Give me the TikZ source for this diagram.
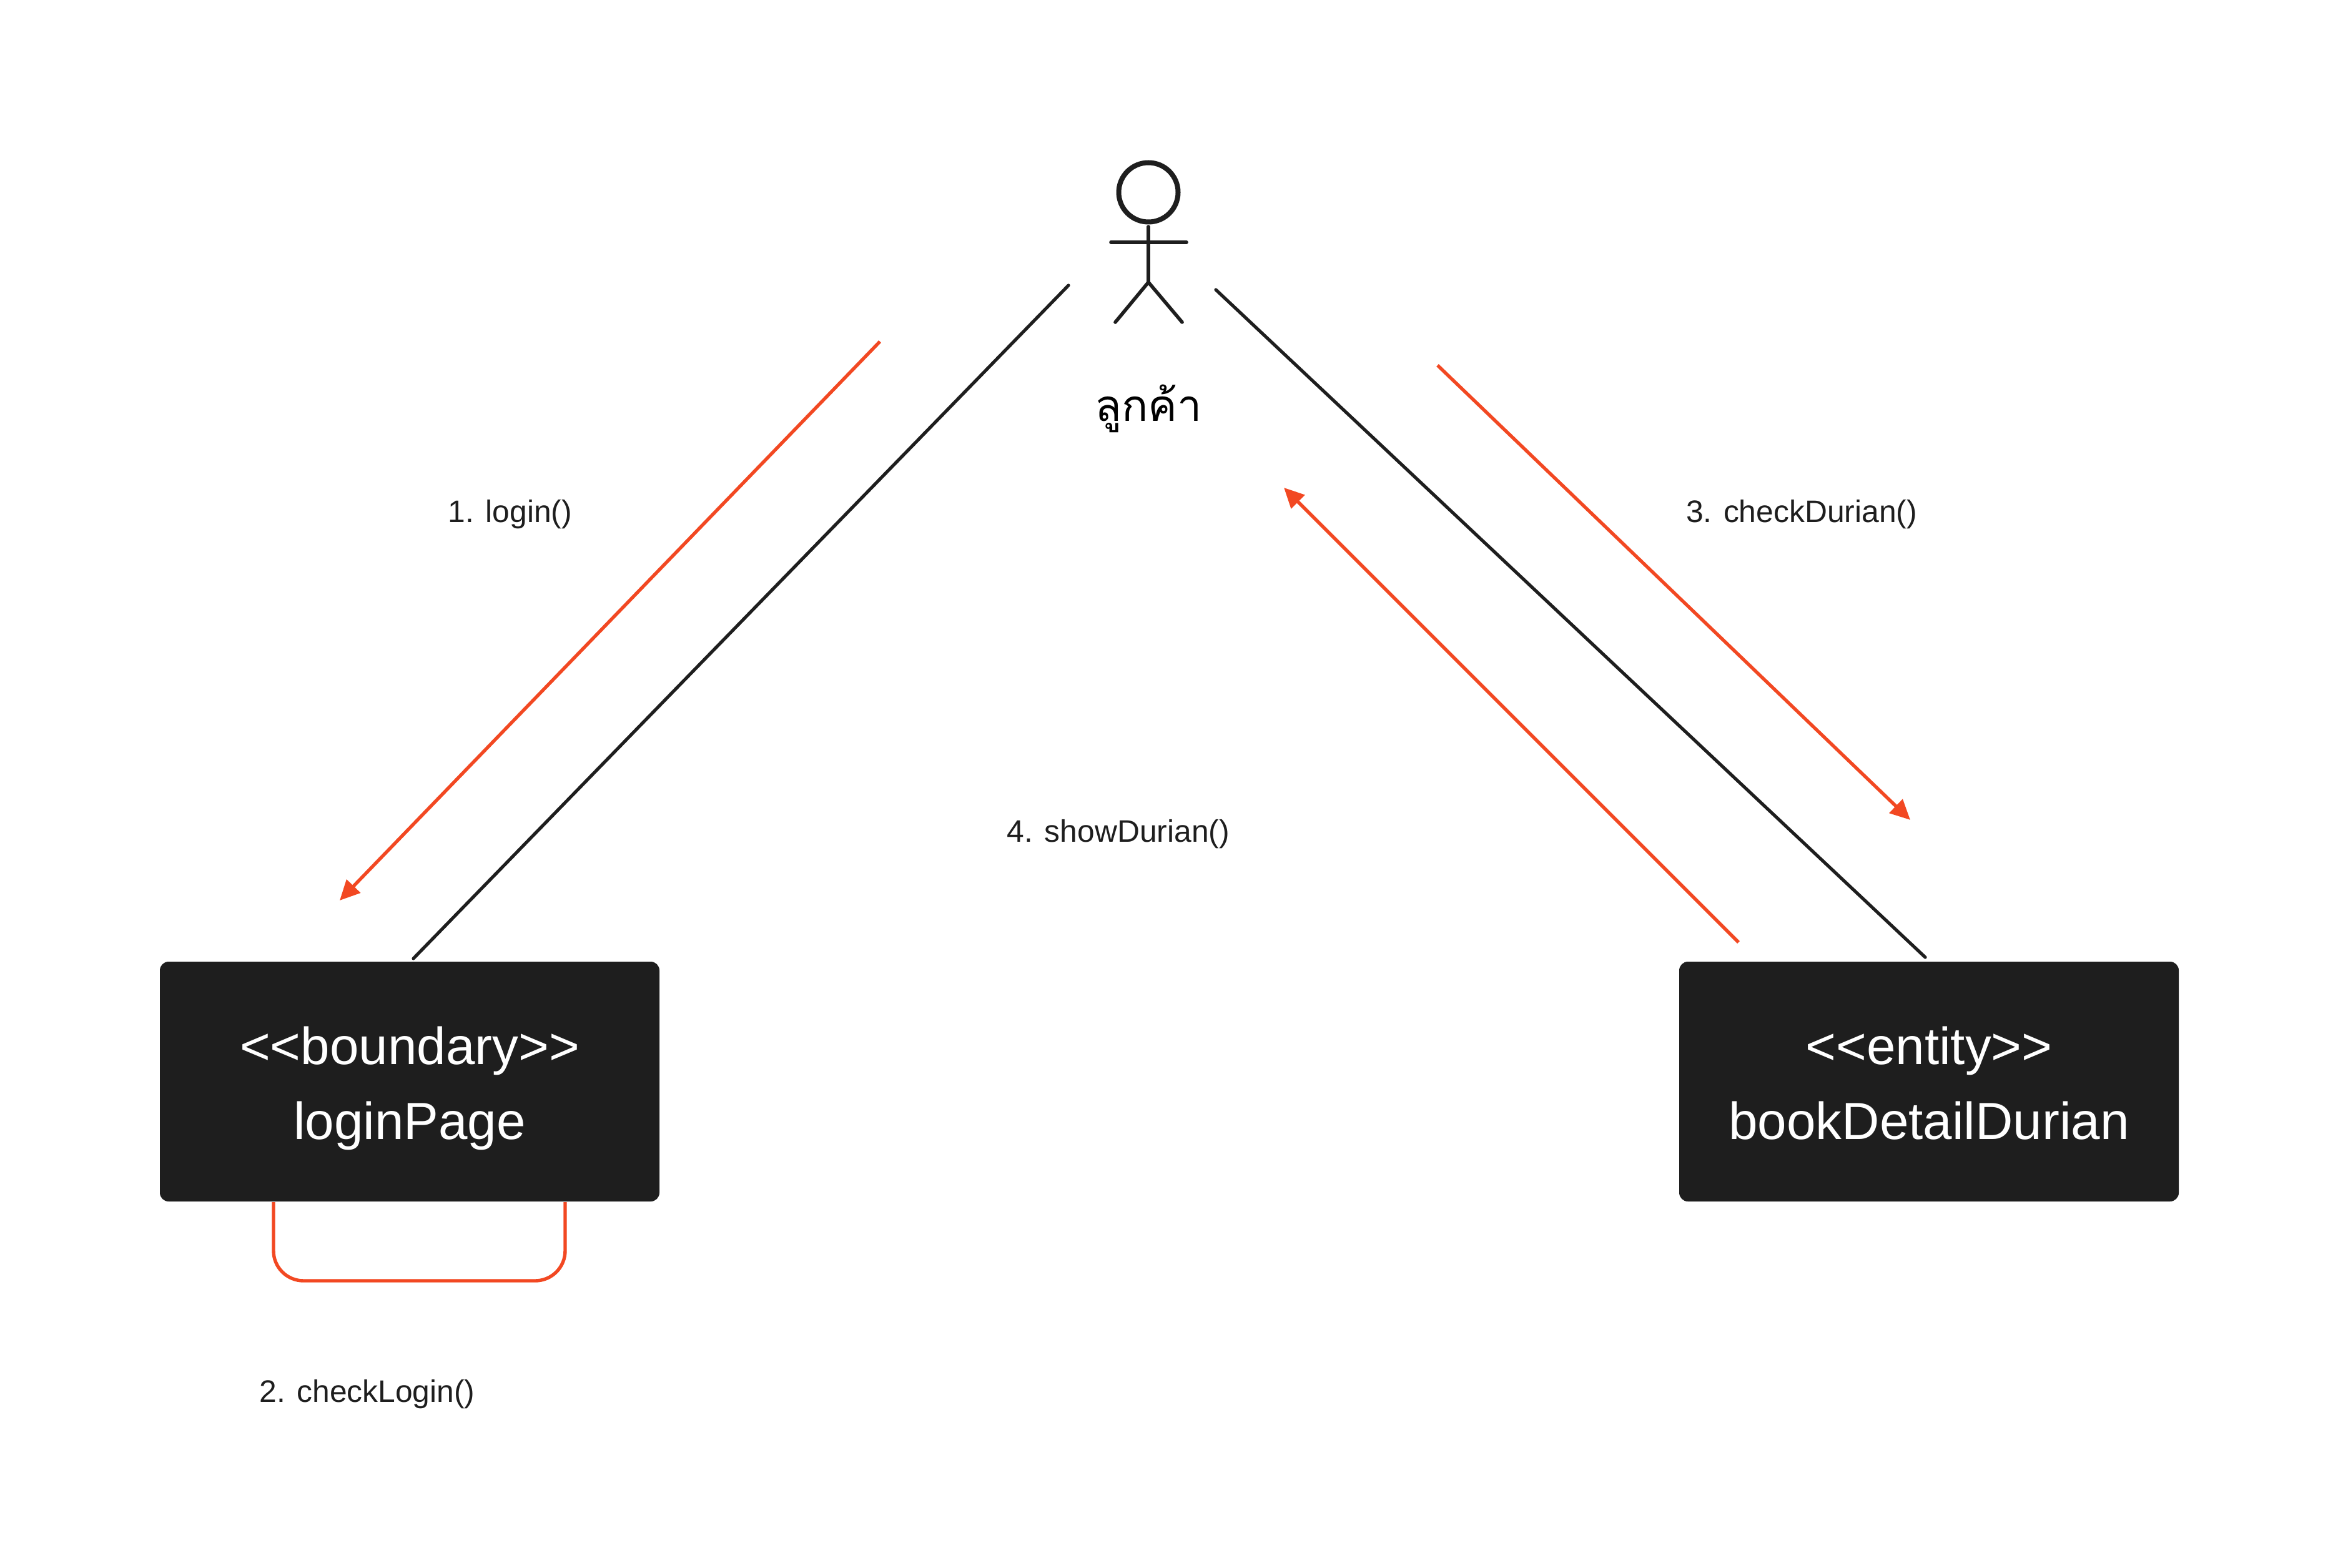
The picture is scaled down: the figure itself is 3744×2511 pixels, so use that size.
\documentclass[tikz,border=0pt]{standalone}
\usepackage{fontspec}
\setmainfont{Liberation Sans}
\newfontfamily\thaifont[Script=Thai]{Loma}
\usepackage{tikz}
\usetikzlibrary{arrows.meta}

\definecolor{boxblack}{HTML}{1E1E1E}
\definecolor{msgred}{HTML}{F24822}
\newcommand{\boxstrut}{\rule{0pt}{25pt}}

\tikzset{
  classbox/.style={fill=boxblack,text=white,rounded corners=3.5pt,minimum width=200pt,
    minimum height=96pt,align=center,inner sep=0pt,font=\fontsize{20.9}{30}\selectfont},
  msglabel/.style={text=boxblack,inner sep=0pt,font=\fontsize{12.45}{15}\selectfont},
  actorline/.style={draw=boxblack,line width=1.4pt,line cap=round},
  assoc/.style={draw=boxblack,line width=1.3pt,line cap=round},
  msg/.style={draw=msgred,line width=1.35pt,-{Triangle[length=8pt,width=7.5pt]}},
  selfmsg/.style={draw=msgred,line width=1.35pt,rounded corners=12pt}
}

\begin{document}
\begin{tikzpicture}[x=0.25pt,y=-0.25pt]
      \useasboundingbox (0,0) rectangle (3744,2511);
      % boxes
      \node[classbox] (loginPage) at (656,1732) {\boxstrut<{}<boundary>{}>\\\strut loginPage};
      \node[classbox] (bookDetail) at (3089,1732) {\boxstrut<{}<entity>{}>\\\strut bookDetailDurian};
      % actor
      \node[circle,draw=boxblack,line width=2pt,minimum size=23.75pt,inner sep=0pt] (head) at (1839,308) {};
      \coordinate (neck) at (1839,363);
      \coordinate (hip) at (1839,452);
      \coordinate (handL) at (1779,388);
      \coordinate (handR) at (1900,388);
      \coordinate (footL) at (1786,516);
      \coordinate (footR) at (1893,516);
      \draw[actorline] (neck) -- (hip);
      \draw[actorline] (handL) -- (handR);
      \draw[actorline] (footL) -- (hip) -- (footR);
      \node[inner sep=0pt,font=\thaifont\fontsize{17.5}{21}\selectfont] (customer) at (1839,654) {ลูกค้า};
      % free ends of the lines
      \coordinate (actorL) at (1711,457);
      \coordinate (boxL) at (662,1535);
      \coordinate (actorR) at (1947,464);
      \coordinate (boxR) at (3083,1533);
      \coordinate (m1a) at (1409,547);
      \coordinate (m1b) at (544,1442);
      \coordinate (m3a) at (2302,585);
      \coordinate (m3b) at (3059,1313);
      \coordinate (m4a) at (2784,1509);
      \coordinate (m4b) at (2056,781);
      \coordinate (loopL) at (438,1925);
      \coordinate (loopB) at (672,2051);
      \coordinate (loopR) at (905,1925);
      \draw[assoc] (actorL) -- (boxL);
      \draw[assoc] (actorR) -- (boxR);
      \draw[msg] (m1a) -- (m1b);
      \draw[msg] (m3a) -- (m3b);
      \draw[msg] (m4a) -- (m4b);
      \draw[selfmsg] (loopL) |- (loopB) -| (loopR);
      % labels
      \node[msglabel] (l1) at (817,824) {1. login()};
      \node[msglabel] (l2) at (588,2233) {2. checkLogin()};
      \node[msglabel] (l3) at (2885,824) {3. checkDurian()};
      \node[msglabel] (l4) at (1791,1336) {4. showDurian()};
\end{tikzpicture}
\end{document}
